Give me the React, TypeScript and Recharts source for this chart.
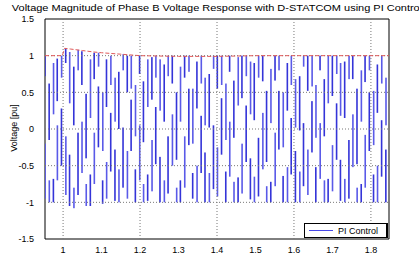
import { Bar, ComposedChart, Line, ReferenceArea, ReferenceLine, XAxis, YAxis } from "recharts"

// phase B voltage, read as the near-vertical strokes seen in the plot:
// [time, low, high, low2, high2]
const waveBars: [number, number, number, number, number][] = [
  [0.953, 0.72, 1.0, -0.95, -0.2], [0.964, -0.15, 0.62, -1.0, -0.7], [0.975, -1.0, -0.68, 0.2, 0.9],
  [0.985, 0.38, 0.96, -0.7, 0.05], [0.996, -0.5, 0.28, 0.7, 1.0], [1.007, 0.9, 1.1, -0.9, -0.1],
  [1.017, -1.05, -0.35, 0.35, 1.05], [1.028, 0.05, 0.85, -1.08, -0.8], [1.039, -0.9, -0.05, 0.8, 1.08],
  [1.049, 0.6, 1.06, -0.6, 0.1], [1.06, -0.4, 0.48, -1.05, -0.75], [1.071, -1.05, -0.62, 0.15, 0.95],
  [1.081, 0.68, 1.04, -0.75, -0.05], [1.092, -0.25, 0.58, 0.85, 1.04], [1.103, -1.02, -0.7, -0.3, 0.5],
  [1.113, 0.3, 0.95, -0.95, -0.45], [1.124, -0.58, 0.22, 0.6, 1.0], [1.135, -0.98, -0.28, 0.1, 0.7],
  [1.145, 0.0, 0.78, -1.0, -0.55], [1.156, -0.8, 0.02, 0.8, 1.02], [1.167, 0.5, 1.0, -0.95, -0.3],
  [1.177, -0.3, 0.4, 0.55, 1.0], [1.188, -1.0, -0.55, -0.1, 0.6], [1.199, 0.75, 1.0, -0.7, 0.05],
  [1.209, -0.18, 0.65, -1.0, -0.75], [1.22, -0.98, -0.62, 0.3, 0.95], [1.231, 0.4, 0.98, -0.85, -0.15],
  [1.241, -0.48, 0.3, 0.7, 1.0], [1.252, -1.0, -0.38, 0.25, 0.95], [1.263, 0.1, 0.88, -1.0, -0.7],
  [1.273, -0.88, -0.1, 0.72, 1.0], [1.284, 0.62, 1.0, -0.5, 0.2], [1.295, -0.42, 0.5, -1.0, -0.8],
  [1.305, -1.0, -0.7, 0.1, 0.85], [1.316, 0.7, 1.0, -0.8, -0.1], [1.327, -0.22, 0.55, 0.78, 1.0],
  [1.337, -0.95, -0.6, -0.2, 0.55], [1.348, 0.28, 0.92, -1.0, -0.5], [1.359, -0.6, 0.18, 0.62, 1.0],
  [1.369, -1.0, -0.32, 0.05, 0.7], [1.38, 0.02, 0.75, -1.0, -0.6], [1.391, -0.82, 0.05, 0.82, 1.0],
  [1.401, 0.55, 1.0, -0.92, -0.25], [1.412, -0.35, 0.42, 0.6, 1.0], [1.423, -1.0, -0.58, -0.15, 0.62],
  [1.433, 0.78, 1.0, -0.65, 0.1], [1.444, -0.12, 0.66, -1.0, -0.72], [1.455, -1.0, -0.66, 0.32, 0.98],
  [1.465, 0.42, 1.0, -0.88, -0.2], [1.476, -0.45, 0.32, 0.72, 1.0], [1.487, -0.96, -0.4, 0.2, 0.92],
  [1.497, 0.12, 0.9, -1.0, -0.65], [1.508, -0.92, -0.12, 0.7, 1.0], [1.519, 0.65, 1.0, -0.55, 0.22],
  [1.529, -0.45, 0.52, -1.0, -0.78], [1.54, -1.0, -0.72, 0.08, 0.82], [1.551, 0.66, 1.0, -0.78, -0.05],
  [1.561, -0.28, 0.52, 0.8, 1.0], [1.572, -1.0, -0.64, -0.25, 0.5], [1.583, 0.25, 0.9, -1.0, -0.52],
  [1.593, -0.62, 0.15, 0.6, 1.0], [1.604, -1.0, -0.3, 0.02, 0.68], [1.615, -0.02, 0.72, -1.0, -0.58],
  [1.625, -0.78, 0.08, 0.85, 1.0], [1.636, 0.52, 1.0, -0.9, -0.28], [1.647, -0.32, 0.38, 0.58, 1.0],
  [1.657, -1.0, -0.52, -0.12, 0.6], [1.668, 0.8, 1.0, -0.68, 0.08], [1.679, -0.1, 0.68, -1.0, -0.7],
  [1.689, -1.0, -0.68, 0.35, 1.0], [1.7, 0.45, 1.0, -0.85, -0.22], [1.711, -0.42, 0.35, 0.75, 1.0],
  [1.721, -0.98, -0.42, 0.18, 0.9], [1.732, 0.15, 0.92, -1.0, -0.68], [1.743, -0.95, -0.15, 0.68, 1.0],
  [1.753, 0.68, 1.0, -0.52, 0.2], [1.764, -0.48, 0.55, -1.0, -0.8], [1.775, -1.0, -0.75, 0.1, 0.8],
  [1.785, 0.64, 1.0, -0.8, -0.08], [1.796, -0.3, 0.5, 0.8, 1.0], [1.807, -1.0, -0.62, -0.22, 0.52],
  [1.817, 0.22, 0.88, -1.0, -0.5], [1.828, -0.65, 0.12, 0.62, 1.0], [1.839, -1.0, -0.28, 0.05, 0.7],
]

// magnitude envelope (red dashed)
const magTime = [0.953, 0.998, 1.004, 1.02, 1.05, 1.08, 1.1, 1.15, 1.2, 1.3, 1.4, 1.5, 1.6, 1.7, 1.8, 1.847]
const magValue = [1.0, 1.0, 1.1, 1.09, 1.07, 1.05, 1.04, 1.02, 1.0, 0.99, 0.99, 1.0, 1.0, 1.0, 1.0, 1.0]

const xTicks = [1, 1.1, 1.2, 1.3, 1.4, 1.5, 1.6, 1.7, 1.8]
const yTicks = [-1.5, -1, -0.5, 0, 0.5, 1, 1.5]
const xGrid = [1, 1.2, 1.4, 1.6, 1.8]
const yGrid = [-1, -0.5, 0, 0.5, 1]

const waveData = waveBars.map(([t, lo, hi, lo2, hi2]) => ({ t, a: [lo, hi], b: [lo2, hi2] }))
const magData = magTime.map((t, i) => ({ t, mag: magValue[i] }))

const font = "'Liberation Sans', Arial, sans-serif"

// thin vertical stroke centred on the bar's slot
const stroke = (color: string) => (props: any) => {
  const { x, y, width, height } = props
  if (x == null || y == null) return <g />
  const top = Math.min(y, y + height)
  const h = Math.max(Math.abs(height), 1)
  return <rect x={x + width / 2 - 0.8} y={top} width={1.6} height={h} fill={color} />
}

export default function App() {
  return (
    <div style={{ position: "absolute", left: 0, top: 0, width: 419, height: 254, background: "#fff" }}>
      <ComposedChart
        width={419}
        height={254}
        data={waveData}
        barGap={1}
        margin={{ top: 19, right: 30, bottom: 0, left: 0 }}
      >
        <XAxis
          dataKey="t"
          type="number"
          domain={[0.953, 1.847]}
          ticks={xTicks}
          allowDataOverflow
          height={15}
          tickLine={false}
          axisLine={false}
          tickMargin={2}
          tick={{ fill: "#000", fontSize: 9, fontFamily: font }}
        />
        <YAxis
          type="number"
          domain={[-1.5, 1.5]}
          ticks={yTicks}
          allowDataOverflow
          width={45}
          tickLine={false}
          axisLine={false}
          tickMargin={5}
          tick={{ fill: "#000", fontSize: 9, fontFamily: font }}
        />
        {xGrid.map((x) => (
          <ReferenceLine key={`x${x}`} x={x} stroke="#777" strokeDasharray="1 2" />
        ))}
        {yGrid.map((y) => (
          <ReferenceLine key={`y${y}`} y={y} stroke="#777" strokeDasharray="1 2" />
        ))}
        <Bar dataKey="a" fill="#3434d8" shape={stroke("#3434d8")} isAnimationActive={false} />
        <Bar dataKey="b" fill="#5a5ae8" shape={stroke("#5a5ae8")} isAnimationActive={false} />
        <Line
          data={magData}
          dataKey="mag"
          type="linear"
          stroke="#e05a5a"
          strokeWidth={1}
          strokeDasharray="4 2"
          dot={false}
          isAnimationActive={false}
        />
        <ReferenceArea x1={0.953} x2={1.847} y1={-1.5} y2={1.5} fill="none" stroke="#000" strokeWidth={1} />
      </ComposedChart>
      <div
        style={{
          position: "absolute",
          left: 217,
          top: 3,
          transform: "translateX(-50%) scaleX(1.22)",
          whiteSpace: "nowrap",
          fontFamily: font,
          fontSize: 9,
          color: "#000",
        }}
      >
        Voltage Magnitude of Phase B Voltage Response with D-STATCOM using PI Control
      </div>
      <div
        style={{
          position: "absolute",
          left: 14,
          top: 128,
          transform: "translate(-50%, -50%) rotate(-90deg)",
          whiteSpace: "nowrap",
          fontFamily: font,
          fontSize: 9,
          color: "#000",
        }}
      >
        Voltage [pu]
      </div>
      <div
        style={{
          position: "absolute",
          left: 304,
          top: 223,
          width: 81,
          height: 13,
          border: "1px solid #000",
          borderRightWidth: 2,
          background: "#fff",
          display: "flex",
          alignItems: "center",
          fontFamily: font,
          fontSize: 9,
          color: "#000",
          whiteSpace: "nowrap",
        }}
      >
        <span style={{ display: "inline-block", width: 24, borderTop: "1px solid #4848e8", margin: "0 5px 0 4px" }} />
        <span>PI Control</span>
      </div>
    </div>
  )
}
